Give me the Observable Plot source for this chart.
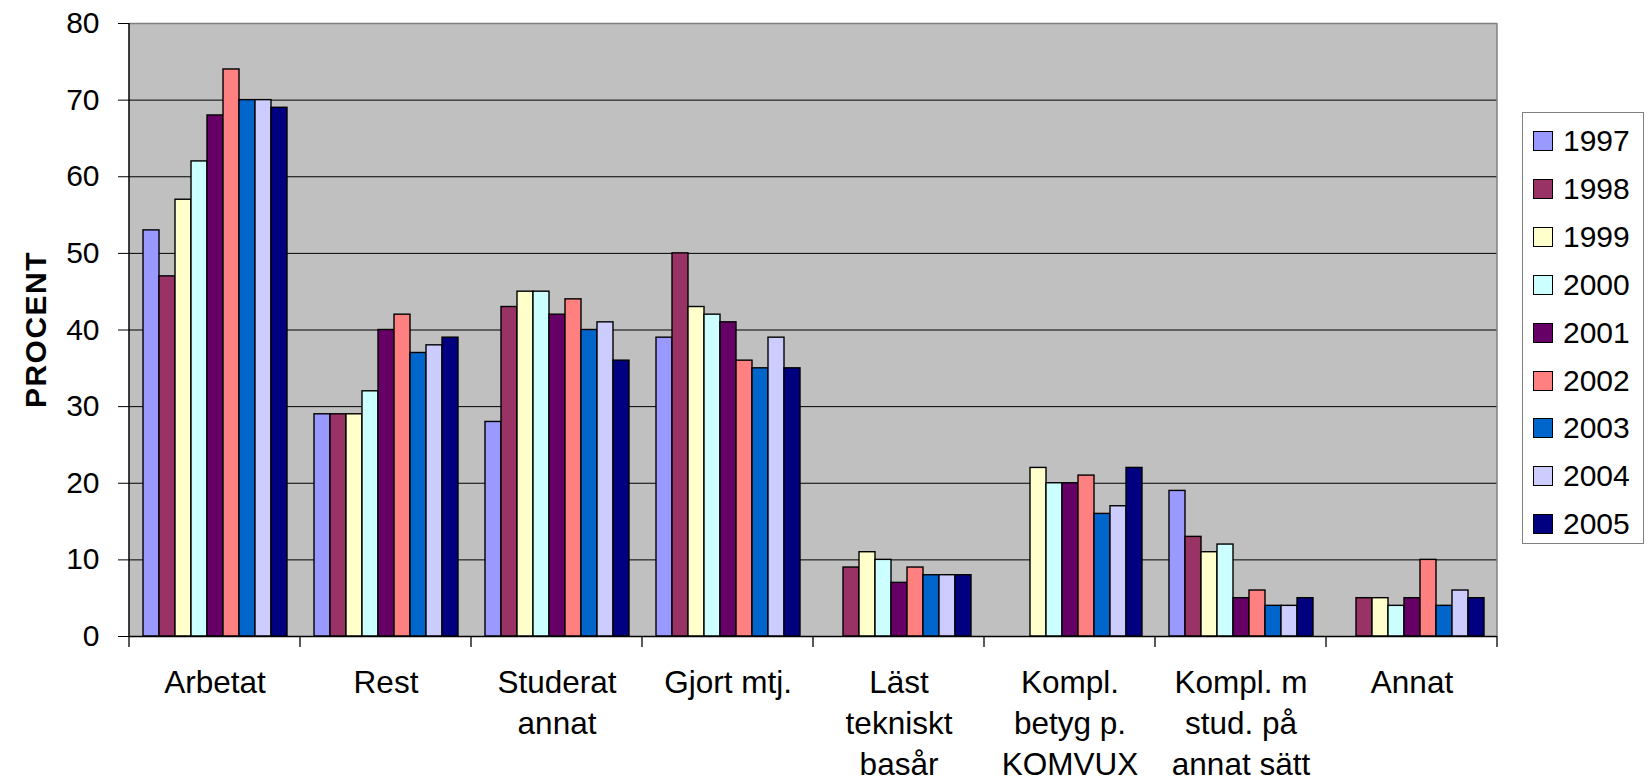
<!DOCTYPE html>
<html><head><meta charset="utf-8">
<script src="https://cdn.jsdelivr.net/npm/d3@7"></script>
<script src="https://cdn.jsdelivr.net/npm/@observablehq/plot@0.6"></script>
<style>
body{margin:0;background:#fff;font-family:"Liberation Sans",Arial,sans-serif;}
#wrap{position:relative;width:1646px;height:781px;overflow:hidden;}
#chart{position:absolute;left:0;top:0;}
#legend{position:absolute;left:1522px;top:112px;width:122px;height:432px;border:1.5px solid #808080;box-sizing:border-box;background:#fff;}
.item{position:absolute;left:10px;height:34px;display:flex;align-items:center;font-size:30px;color:#000;line-height:34px;}
.sw{width:18px;height:18px;border:1.5px solid #000;margin-right:10px;box-sizing:content-box;}
</style></head><body><div id="wrap"><div id="chart"></div><div id="legend"></div></div>
<script>
const categories = ["Arbetat","Rest","Studerat\nannat","Gjort mtj.","Läst\ntekniskt\nbasår","Kompl.\nbetyg p.\nKOMVUX","Kompl. m\nstud. på\nannat sätt","Annat"];
const years = ["1997","1998","1999","2000","2001","2002","2003","2004","2005"];
const colors = ["#9999FF","#993366","#FFFFCC","#CCFFFF","#660066","#FF8080","#0066CC","#CCCCFF","#000080"];
const v1997 = [53,29,28,39,null,null,19,null];
const v1998 = [47,29,43,50,9,null,13,5];
const v1999 = [57,29,45,43,11,22,11,5];
const v2000 = [62,32,45,42,10,20,12,4];
const v2001 = [68,40,42,41,7,20,5,5];
const v2002 = [74,42,44,36,9,21,6,10];
const v2003 = [70,37,40,35,8,16,4,4];
const v2004 = [70,38,41,39,8,17,4,6];
const v2005 = [69,39,36,35,8,22,5,5];
const yTicks = [0,10,20,30,40,50,60,70,80];
const yLabel = "PROCENT";

const series = [v1997,v1998,v1999,v2000,v2001,v2002,v2003,v2004,v2005];
const data = [];
series.forEach((vals, i) => vals.forEach((v, j) => {
  if (v != null) data.push({category: categories[j], year: years[i], value: v});
}));

const font = '"Liberation Sans", Arial, sans-serif';
const plot = Plot.plot({
  width: 1500, height: 781,
  marginLeft: 126, marginRight: 1, marginTop: 23, marginBottom: 145,
  style: {fontFamily: font, fontSize: "30px", color: "#000", background: "transparent", overflow: "visible"},
  fx: {domain: categories, padding: 0, label: null, axis: null},
  x: {domain: years, paddingInner: 0, paddingOuter: 0.7, axis: null},
  y: {domain: [0, 80], label: null, axis: null},
  color: {domain: years, range: colors},
  marks: [
    Plot.gridY(yTicks.filter(d => d > 0 && d < 80), {stroke: "#000", strokeOpacity: 1, strokeWidth: 1}),
    Plot.ruleY([80], {stroke: "#808080", strokeWidth: 1.5}),
    Plot.barY(data, {fx: "category", x: "year", y: "value", fill: "year", stroke: "#000", strokeWidth: 1.4}),
    Plot.ruleY([0], {stroke: "#000", strokeWidth: 1.5}),
    Plot.axisY(yTicks, {anchor: "left", tickSize: 11, tickPadding: 19, fontSize: 30, label: null, stroke: "#000"}),
    Plot.axisFx({anchor: "bottom", tickSize: 0, tickPadding: 27, fontSize: 31.5, lineHeight: 1.31, label: null})
  ]
});
document.getElementById("chart").appendChild(plot);

// background, boundary ticks, axis line and border using the plot's own scales
const fx = plot.scale("fx"), y = plot.scale("y");
const svg = d3.select(plot);
const y0 = y.apply(0), yTop = y.apply(80);
const bounds = categories.map(c => fx.apply(c));
const right = fx.apply(categories[categories.length - 1]) + fx.bandwidth;
bounds.push(right);
svg.insert("rect", "g")
  .attr("x", bounds[0]).attr("y", yTop).attr("width", right - bounds[0]).attr("height", y0 - yTop)
  .attr("fill", "#C0C0C0");
const g = svg.append("g");
g.selectAll("line.b").data(bounds).join("line")
  .attr("x1", d => d).attr("x2", d => d).attr("y1", y0).attr("y2", y0 + 11)
  .attr("stroke", "#000").attr("stroke-width", 1.3);
g.append("line").attr("x1", bounds[0]).attr("x2", bounds[0]).attr("y1", yTop).attr("y2", y0)
  .attr("stroke", "#000").attr("stroke-width", 1.5);
g.append("line").attr("x1", right).attr("x2", right).attr("y1", yTop).attr("y2", y0)
  .attr("stroke", "#808080").attr("stroke-width", 1.5);
g.append("text").text(yLabel)
  .attr("transform", `translate(35,${(y0 + yTop) / 2}) rotate(-90)`)
  .attr("text-anchor", "middle").attr("dominant-baseline", "central")
  .attr("font-weight", "bold").attr("font-size", 30).attr("letter-spacing", 1.5)
  .attr("font-family", font).attr("fill", "#000");

// legend
const legend = d3.select("#legend");
years.forEach((yr, i) => {
  const it = legend.append("div").attr("class", "item").style("top", (11 + i * 47.9) + "px");
  it.append("div").attr("class", "sw").style("background", colors[i]);
  it.append("span").text(yr);
});
</script>
</body></html>
